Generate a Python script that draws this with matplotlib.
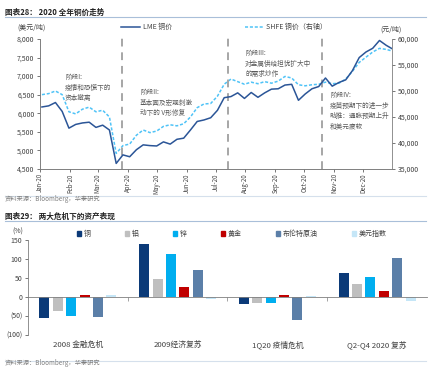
import matplotlib
matplotlib.use('Agg')
import matplotlib.pyplot as plt
import matplotlib.dates as mdates
from matplotlib.lines import Line2D
from matplotlib.patches import Patch
from matplotlib.ticker import FuncFormatter
import pandas as pd

plt.rcParams['font.family'] = ['Noto Sans CJK SC', 'DejaVu Sans']

W, H = 435, 375

# ---- chart 28 data: weekly closes ----
weeks = pd.date_range('2020-01-03', '2020-12-25', freq='W-FRI').append(pd.DatetimeIndex(['2020-12-31']))
lme = [6170, 6200, 6290, 6050, 5600, 5700, 5740, 5760, 5620, 5680, 5550, 4650, 4880,
       4830, 5020, 5150, 5130, 5120, 5230, 5170, 5300, 5330, 5550, 5780, 5820, 5880,
       6080, 6420, 6450, 6550, 6400, 6560, 6430, 6550, 6650, 6660, 6760, 6780, 6350,
       6520, 6660, 6720, 6950, 6730, 6830, 6900, 7150, 7500, 7650, 7750, 7960, 7830, 7740]
shfe = [49300, 49500, 50000, 49300, 46000, 45600, 46500, 46900, 46000, 46300, 45000, 38000, 39500,
        39800, 41500, 42500, 42000, 42300, 43200, 43500, 43300, 43700, 45000, 46800, 47500, 47600,
        49000, 51300, 52300, 51800, 51300, 51700, 51400, 51800, 51500, 51900, 52800, 52500, 51200,
        51000, 51200, 51300, 51700, 51400, 51500, 52300, 53800, 55500, 56500, 57500, 58200, 58000, 57700]
phase_dates = ['2020-03-26', '2020-07-14', '2020-10-19']

# ---- chart 29 data ----
periods = ['2008 金融危机', '2009经济复苏', '1Q20 疫情危机', 'Q2-Q4 2020 复苏']
assets = ['铜', '铝', '锌', '黄金', '布伦特原油', '美元指数']
copper = [-55, 140, -19, 63]
aluminium = [-37, 47, -15, 33]
zinc = [-50, 113, -16, 52]
gold = [5, 26, 4, 16]
brent = [-53, 71, -60, 102]
dollar = [4, -5, 2, -11]
asset_colors = ['#0B3A78', '#BFBFBF', '#00AEEF', '#C00000', '#5B7FA8', '#C5E6F7']

GRAY = '#7F7F7F'
TXT = '#404040'
RULE = '#A9BFD9'


def fx(px):
    return px / W


def fy(py):
    return 1 - py / H


fig = plt.figure(figsize=(W / 100, H / 100), dpi=100)

# headers, sources and rules
fig.text(fx(5), fy(12), '图表28： 2020 全年铜价走势', fontsize=5.5, weight='bold', va='center', color='#222222')
fig.add_artist(Line2D([fx(5), fx(426)], [fy(17)] * 2, color=RULE, lw=0.8))
fig.text(fx(5), fy(199), '资料来源：Bloomberg，华泰研究', fontsize=4.5, va='center', color=GRAY)
fig.add_artist(Line2D([fx(5), fx(426)], [fy(196)] * 2, color='#D5E0EC', lw=0.8))
fig.text(fx(5), fy(216), '图表29： 两大危机下的资产表现', fontsize=5.5, weight='bold', va='center', color='#222222')
fig.add_artist(Line2D([fx(5), fx(426)], [fy(221)] * 2, color=RULE, lw=0.8))
fig.text(fx(5), fy(363), '资料来源：Bloomberg，华泰研究', fontsize=4.5, va='center', color=GRAY)
fig.add_artist(Line2D([fx(5), fx(426)], [fy(361)] * 2, color='#D5E0EC', lw=0.8))

# ---- top chart ----
ax1 = fig.add_axes([fx(40), fy(169), fx(352), 130 / H])
l1, = ax1.plot(weeks, lme, color='#2B5597', lw=1.1, zorder=3)
ax2 = ax1.twinx()
l2, = ax2.plot(weeks, shfe, color='#4FC3F7', lw=1.1, ls=(0, (2, 1.2)), zorder=2)
ax1.set_zorder(ax2.get_zorder() + 1)
ax1.patch.set_visible(False)

ax1.set_xlim(pd.Timestamp('2020-01-01'), pd.Timestamp('2020-12-31'))
ax1.set_ylim(4500, 8000)
ax2.set_ylim(35000, 60000)
ax1.set_yticks(range(4500, 8001, 500))
ax2.set_yticks(range(35000, 60001, 5000))
comma = FuncFormatter(lambda v, p: f'{v:,.0f}')
ax1.yaxis.set_major_formatter(comma)
ax2.yaxis.set_major_formatter(comma)
ax1.xaxis.set_major_locator(mdates.MonthLocator())
ax1.xaxis.set_major_formatter(mdates.DateFormatter('%b-%y'))

for a in (ax1, ax2):
    for s in a.spines.values():
        s.set_color(GRAY)
        s.set_linewidth(0.6)
    a.spines['top'].set_visible(False)
    a.tick_params(labelsize=5, colors=TXT, length=2, width=0.5, pad=2)
ax1.spines['right'].set_visible(False)
ax1.tick_params(axis='x', labelsize=4.4, pad=1, labelrotation=90)

for d in phase_dates:
    ax1.axvline(pd.Timestamp(d), ymin=0, ymax=1.03, color='#A6A6A6', lw=1.4,
                ls=(0, (4, 3)), clip_on=False, zorder=1)

fig.text(fx(32), fy(28), '(美元/吨)', fontsize=5, color=TXT, ha='center', va='center')
fig.text(fx(391), fy(30), '(元/吨)', fontsize=5, color=TXT, ha='center', va='center')

fig.legend([l1, l2], ['LME 铜价', 'SHFE 铜价（右轴）'], loc='center left',
           bbox_to_anchor=(fx(121), fy(27)), ncol=2, frameon=False, fontsize=5,
           handlelength=2.8, columnspacing=10.5, handletextpad=0.3,
           borderaxespad=0, borderpad=0, labelcolor=TXT)

notes = [
    (65, 77, '阶段I:\n疫情和恐慌下的\n资本撤离'),
    (140, 92, '阶段II:\n基本面及宏观刺激\n动下的 V形修复'),
    (245, 53, '阶段III:\n对金属供给担忧扩大中\n的需求炒作'),
    (330, 95, '阶段IV:\n疫苗预期下的进一步\n助推：通胀预期上升\n和美元疲软'),
]
for x, y, t in notes:
    fig.text(fx(x), fy(y - 4), t, fontsize=4.8, color='#595959', va='top', linespacing=1.45)

# ---- bottom chart ----
ax3 = fig.add_axes([fx(28), fy(335), fx(399), 95 / H])
series = [copper, aluminium, zinc, gold, brent, dollar]
step = 0.134
handles = []
for i, (vals, name, c) in enumerate(zip(series, assets, asset_colors)):
    xs = [k + (i - 2.5) * step for k in range(len(periods))]
    ax3.bar(xs, vals, width=0.1, color=c, zorder=2)
    handles.append(Patch(color=c, label=name))

ax3.set_xlim(-0.5, 3.5)
ax3.set_ylim(-100, 150)
ax3.set_yticks([-100, -50, 0, 50, 100, 150])
ax3.set_yticklabels(['(100)', '(50)', '0', '50', '100', '150'])
ax3.spines['top'].set_visible(False)
ax3.spines['right'].set_visible(False)
ax3.spines['bottom'].set_position(('data', 0))
for s in ('left', 'bottom'):
    ax3.spines[s].set_color(GRAY)
    ax3.spines[s].set_linewidth(0.6)
ax3.set_xticks([])
ax3.set_xticks([0.5, 1.5, 2.5], minor=True)
ax3.tick_params(axis='x', which='minor', length=3, width=0.5, color=GRAY)
ax3.tick_params(axis='y', labelsize=5, colors=TXT, length=2, width=0.5, pad=2)
for k, p in enumerate(periods):
    ax3.text(k, -0.1, p, transform=ax3.get_xaxis_transform(), ha='center', va='center',
             fontsize=5.6, color=TXT)

fig.text(fx(18), fy(232), '(%)', fontsize=5, color=TXT, ha='center', va='center')
fig.legend(handles=handles, loc='center left', bbox_to_anchor=(fx(77), fy(234)), ncol=6,
           frameon=False, fontsize=5, handlelength=0.6, handleheight=0.6,
           columnspacing=4.9, handletextpad=0.4, borderaxespad=0, borderpad=0, labelcolor=TXT)

fig.savefig('out.png', dpi=100)
